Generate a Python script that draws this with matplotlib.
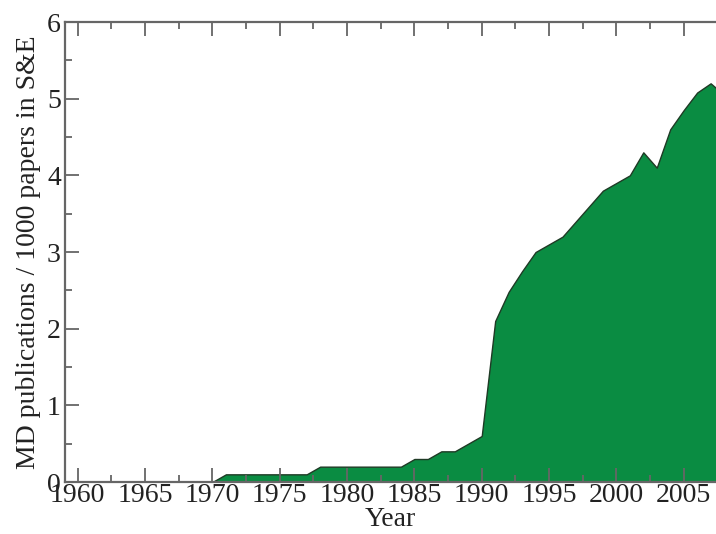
import numpy as np
import matplotlib.pyplot as plt
from matplotlib.ticker import MultipleLocator

# MD publications per 1000 S&E papers, by year
years = [1970, 1971, 1972, 1973, 1974, 1975, 1976, 1977, 1978, 1979,
         1980, 1981, 1982, 1983, 1984, 1985, 1986, 1987, 1988, 1989,
         1990, 1991, 1992, 1993, 1994, 1995, 1996, 1997, 1998, 1999,
         2000, 2001, 2002, 2003, 2004, 2005, 2006, 2007, 2008]
md_rate = [0.0, 0.1, 0.1, 0.1, 0.1, 0.1, 0.1, 0.1, 0.2, 0.2,
           0.2, 0.2, 0.2, 0.2, 0.2, 0.3, 0.3, 0.4, 0.4, 0.5,
           0.6, 2.1, 2.48, 2.75, 3.0, 3.1, 3.2, 3.4, 3.6, 3.8,
           3.9, 4.0, 4.3, 4.1, 4.6, 4.85, 5.08, 5.2, 5.05]

plt.rcParams['font.family'] = ['Liberation Serif', 'DejaVu Serif']

fig = plt.figure(figsize=(7.16, 5.34), dpi=100)
ax = fig.add_axes([65 / 716, 52 / 534, 651 / 716, 460 / 534])

ax.fill_between(years, md_rate, 0, facecolor='#0a8c42', edgecolor='#1f3a25',
                linewidth=1.0, zorder=2)

ax.set_xlim(1959.05, 2007.4)
ax.set_ylim(0, 6)
ax.xaxis.set_major_locator(MultipleLocator(5))
ax.xaxis.set_minor_locator(MultipleLocator(2.5))
ax.yaxis.set_major_locator(MultipleLocator(1))
ax.yaxis.set_minor_locator(MultipleLocator(0.5))

# ticks and spines drawn over the filled area
ax.set_axisbelow(False)

spine_col = '#666666'
for side in ['left', 'bottom', 'top']:
    ax.spines[side].set_color(spine_col)
    ax.spines[side].set_linewidth(1.6)
ax.spines['right'].set_visible(False)

ax.tick_params(which='both', direction='in', top=True, right=False,
               color=spine_col, width=1.3, labelsize=20, labelcolor='#222222')
ax.tick_params(which='major', length=10)
ax.tick_params(which='minor', length=5)
ax.tick_params(axis='x', pad=1)
ax.tick_params(axis='y', pad=3)

ax.set_xlabel('Year', fontsize=20, color='#222222', labelpad=-1)
ax.set_ylabel('MD publications / 1000 papers in S&E', fontsize=20,
              color='#222222', labelpad=4)

fig.savefig('out.png', dpi=100)
